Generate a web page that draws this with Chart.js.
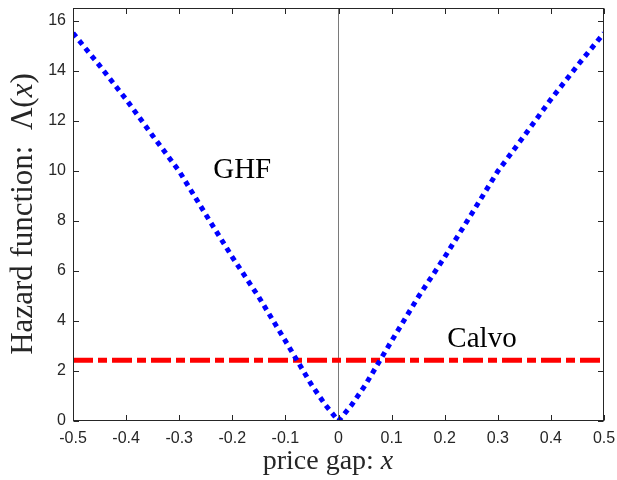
<!DOCTYPE html>
<html>
<head>
<meta charset="utf-8">
<script src="https://cdn.jsdelivr.net/npm/chart.js@4/dist/chart.umd.min.js"></script>
<style>
html,body{margin:0;padding:0;background:#fff;}
#wrap{width:617px;height:480px;}
</style>
</head>
<body>
<div id="wrap"><canvas id="c" width="617" height="480"></canvas></div>
<script>
// ---- data ----
const ghfX = [-0.5,-0.45,-0.4,-0.35,-0.3,-0.25,-0.2,-0.15,-0.1,-0.05,-0.025,0,0.025,0.05,0.1,0.15,0.2,0.25,0.3,0.35,0.4,0.45,0.5];
const ghfY = [15.5,14.2,12.85,11.4,9.98,8.25,6.55,4.95,3.2,1.42,0.65,0,0.65,1.42,3.2,4.95,6.55,8.25,9.98,11.4,12.85,14.2,15.5];
const calvoX = [-0.5, 0.5];
const calvoY = [2.43, 2.43];
const zeroLineX = [0, 0];
const zeroLineY = [0, 16.5];
const xTicks = [-0.5,-0.4,-0.3,-0.2,-0.1,0,0.1,0.2,0.3,0.4,0.5];
const xTickLabels = ['-0.5','-0.4','-0.3','-0.2','-0.1','0','0.1','0.2','0.3','0.4','0.5'];
const yTicks = [0,2,4,6,8,10,12,14,16];
const yTickLabels = ['0','2','4','6','8','10','12','14','16'];
const annotations = [
  {text:'GHF', x:-0.236, y:10.0},
  {text:'Calvo', x:0.205, y:3.27}
];

const toPts = (xs, ys) => xs.map((x,i)=>({x:x, y:ys[i]}));
const AXIS = '#262626';
const SERIF = '"Liberation Serif", "Times New Roman", serif';

const decor = {
  id:'decor',
  afterDraw(chart){
    const ctx = chart.ctx, a = chart.chartArea;
    const xs = chart.scales.x, ys = chart.scales.y;
    ctx.save();
    // box
    ctx.strokeStyle = AXIS; ctx.lineWidth = 1;
    const L = Math.round(a.left)+0.5, T = Math.round(a.top)+0.5, R = Math.round(a.right)-0.5, B = Math.round(a.bottom)-0.5;
    ctx.strokeRect(L, T, R-L, B-T);
    // ticks inward on all sides
    const tl = 5.5;
    ctx.beginPath();
    xTicks.forEach(v=>{
      const px = Math.round(xs.getPixelForValue(v))+0.5;
      ctx.moveTo(px, B); ctx.lineTo(px, B-tl);
      ctx.moveTo(px, T); ctx.lineTo(px, T+tl);
    });
    yTicks.forEach(v=>{
      const py = Math.round(ys.getPixelForValue(v))+0.5;
      ctx.moveTo(L, py); ctx.lineTo(L+tl, py);
      ctx.moveTo(R, py); ctx.lineTo(R-tl, py);
    });
    ctx.stroke();
    // annotations
    ctx.fillStyle = '#000';
    ctx.font = '29px ' + SERIF;
    ctx.textBaseline = 'middle'; ctx.textAlign = 'left';
    annotations.forEach(t=>{
      ctx.fillText(t.text, xs.getPixelForValue(t.x), ys.getPixelForValue(t.y));
    });
    // axis titles with italic variable
    const drawMixed = (parts, cx, cy) => {
      let w = 0;
      parts.forEach(p=>{ ctx.font = (p.it?'italic ':'') + p.size + 'px ' + SERIF; p.w = ctx.measureText(p.t).width; w += p.w; });
      let x = cx - w/2;
      ctx.textAlign='left'; ctx.textBaseline='middle';
      parts.forEach(p=>{ ctx.font = (p.it?'italic ':'') + p.size + 'px ' + SERIF; ctx.fillText(p.t, x, cy); x += p.w; });
    };
    ctx.fillStyle = AXIS;
    drawMixed([{t:'price gap: ',size:28},{t:'x',it:true,size:28}], 328, 462);
    ctx.save();
    ctx.translate(24, 214);
    ctx.rotate(-Math.PI/2);
    drawMixed([{t:'Hazard function:  \u039B(',size:31},{t:'x',it:true,size:31},{t:')',size:31}], 0, 0);
    ctx.restore();
    ctx.restore();
  }
};

new Chart(document.getElementById('c'), {
  type:'line',
  data:{
    datasets:[
      {label:'GHF', data:toPts(ghfX, ghfY), borderColor:'#0000FF', borderWidth:5, borderDash:[5,4.8], borderCapStyle:'butt', pointRadius:0, fill:false, tension:0, order:1},
      {label:'Calvo', data:toPts(calvoX, calvoY), borderColor:'#FF0000', borderWidth:5, borderDash:[20,5,9,5], borderCapStyle:'butt', pointRadius:0, fill:false, tension:0, order:2},
      {label:'zero', data:toPts(zeroLineX, zeroLineY), borderColor:'#7a7a7a', borderWidth:1, pointRadius:0, fill:false, order:3}
    ]
  },
  options:{
    responsive:false, animation:false, devicePixelRatio:1,
    layout:{padding:{left:0,right:13,top:8,bottom:0}},
    plugins:{legend:{display:false}, tooltip:{enabled:false}},
    scales:{
      x:{type:'linear', min:-0.5, max:0.5,
        afterFit(s){ s.height = 59; s.paddingLeft = 0; s.paddingRight = 0; },
        afterBuildTicks(s){ s.ticks = xTicks.map(v=>({value:v})); },
        grid:{display:false, drawTicks:false}, border:{display:false},
        ticks:{padding:8, maxRotation:0, autoSkip:false, color:AXIS, font:{family:'"Liberation Sans", Arial, sans-serif', size:16},
          callback:(v)=>{ const i = xTicks.findIndex(t=>Math.abs(t-v)<1e-9); return i>=0?xTickLabels[i]:''; }}
      },
      y:{type:'linear', min:0, max:16.5,
        afterFit(s){ s.width = 73; s.paddingTop = 0; s.paddingBottom = 0; },
        afterBuildTicks(s){ s.ticks = yTicks.map(v=>({value:v})); },
        grid:{display:false, drawTicks:false}, border:{display:false},
        ticks:{padding:7, autoSkip:false, color:AXIS, font:{family:'"Liberation Sans", Arial, sans-serif', size:16},
          callback:(v)=>{ const i = yTicks.findIndex(t=>Math.abs(t-v)<1e-9); return i>=0?yTickLabels[i]:''; }}
      }
    }
  },
  plugins:[decor]
});
</script>
</body>
</html>
